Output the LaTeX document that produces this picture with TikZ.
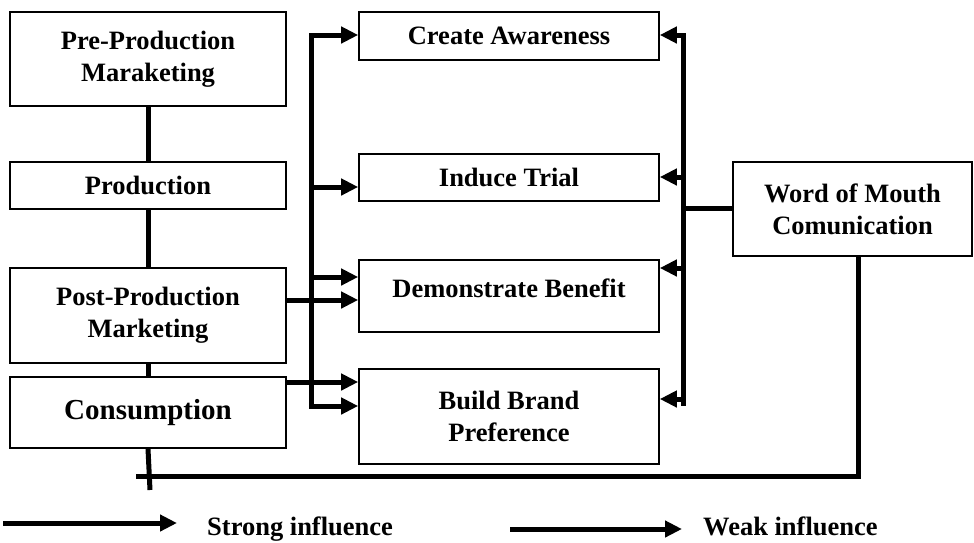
\documentclass[tikz,border=0pt]{standalone}
\usepackage{fontspec}
\setmainfont{Liberation Serif}
\usetikzlibrary{arrows.meta}
\begin{document}
\begin{tikzpicture}[x=1pt,y=-1pt,
  box/.style={draw, line width=1.6pt, inner sep=0pt, align=center, minimum width=276pt},
  rbox/.style={draw, line width=1.6pt, inner sep=0pt, align=center, minimum width=300pt},
  txt/.style={inner sep=0pt, align=center, font=\fontsize{26.5}{32}\selectfont\bfseries},
  conn/.style={line width=5pt},
  bus/.style={line width=5pt, line cap=rect},
  arr/.style={line width=5pt, -{Triangle[length=17pt,width=16pt]}}]
\useasboundingbox (0,0) rectangle (974,542);
% left column
\node[box, txt, minimum height=94pt] (pre) at (148,59) {Pre-Production\\Maraketing};
\node[box, txt, minimum height=47pt] (prod) at (148,185.5) {Production};
\node[box, txt, minimum height=95pt] (post) at (148,315.5) {Post-Production\\Marketing};
\node[box, txt, minimum height=71pt, font=\fontsize{29}{34}\selectfont\bfseries] (cons) at (148,412.5) {Consumption};
% middle column
\node[rbox, txt, minimum height=48pt] (create) at (509,36) {Create Awareness};
\node[rbox, txt, minimum height=47pt] (induce) at (509,177.5) {Induce Trial};
\node[rbox, minimum height=72pt] (demo) at (509,296) {};
\node[txt] (demotext) at (509,288) {Demonstrate Benefit};
\node[rbox, txt, minimum height=95pt] (build) at (509,416.5) {Build Brand\\Preference};
% right
\node[draw, line width=1.6pt, inner sep=0pt, txt, minimum width=239pt, minimum height=94pt] (wom) at (852.5,209) {Word of Mouth\\Comunication};
% left chain
\draw[conn] (pre.south) -- (prod.north);
\draw[conn] (prod.south) -- (post.north);
\draw[conn] (post.south) -- (cons.north);
\coordinate (consend) at (150,490);
\draw[conn] (cons.south) -- (consend);
% bottom feedback
\coordinate (fbstart) at (136,476);
\draw[conn] (fbstart) -- (858,476) -- (wom.south -| 858,0);
% left bus
\coordinate (lbtop) at (311,35);
\coordinate (lbbot) at (311,406);
\draw[bus] (lbtop) -- (lbbot);
\draw[arr] (lbtop) -- (create.west |- 0,35);
\draw[arr] (311,187) -- (induce.west |- 0,187);
\draw[arr] (311,277) -- (demo.west |- 0,277);
\draw[arr] (lbbot) -- (build.west |- 0,406);
\draw[arr] (post.east |- 0,300) -- (demo.west |- 0,300);
\draw[arr] (cons.east |- 0,382) -- (build.west |- 0,382);
% right bus
\coordinate (rbtop) at (683,35);
\coordinate (rbbot) at (683,403);
\draw[bus] (rbtop) -- (rbbot);
\draw[arr] (rbtop) -- (create.east |- 0,35);
\draw[arr] (683,177) -- (induce.east |- 0,177);
\draw[arr] (683,268) -- (demo.east |- 0,268);
\draw[arr] (683,399) -- (build.east |- 0,399);
\draw[conn] (683,208) -- (wom.west |- 0,208);
% legend
\coordinate (sa) at (3,523);
\coordinate (sb) at (177,523);
\draw[arr] (sa) -- (sb);
\node[txt, anchor=base west] (strong) at (207,535) {Strong influence};
\coordinate (wa) at (510,529);
\coordinate (wb) at (682,529);
\draw[arr] (wa) -- (wb);
\node[txt, anchor=base west] (weak) at (703,535) {Weak influence};
\end{tikzpicture}
\end{document}
